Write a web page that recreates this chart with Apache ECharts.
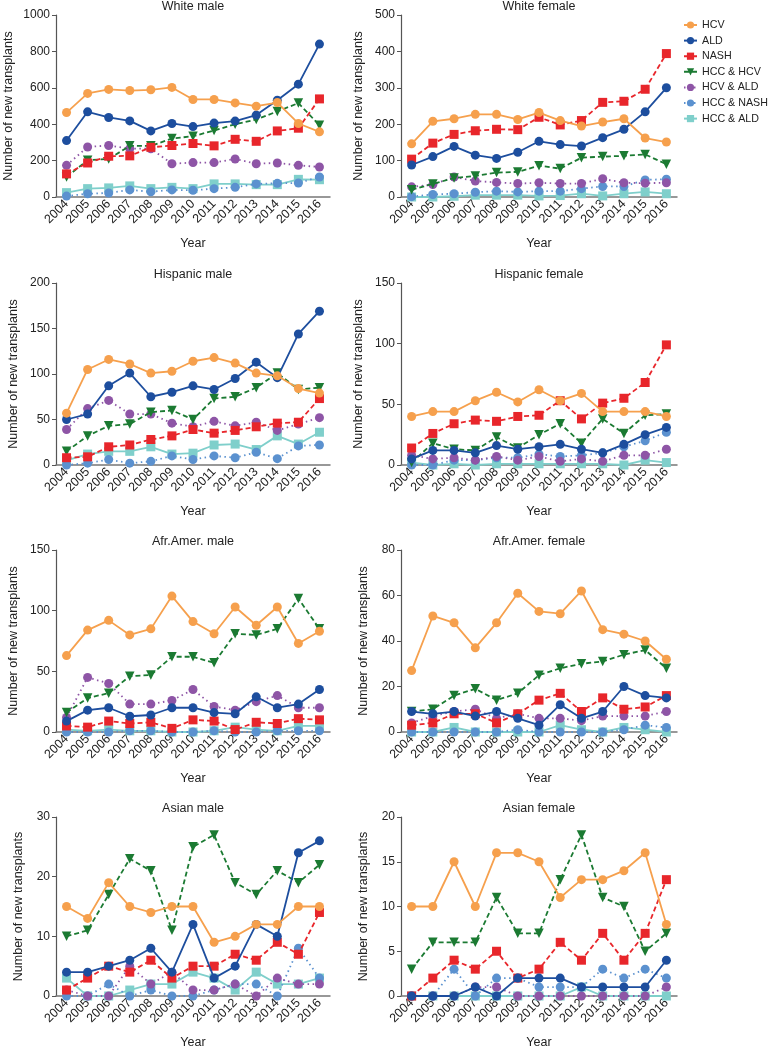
<!DOCTYPE html>
<html>
<head>
<meta charset="utf-8">
<script src="https://cdn.jsdelivr.net/npm/echarts@6/dist/echarts.min.js"></script>
<style>
html,body{margin:0;padding:0;background:#fff;}
#chart{width:768px;height:1050px;}
</style>
</head>
<body>
<div id="chart"></div>
<script>
const years = ['2004','2005','2006','2007','2008','2009','2010','2011','2012','2013','2014','2015','2016'];
const seriesNames = ['HCV','ALD','NASH','HCC & HCV','HCV & ALD','HCC & NASH','HCC & ALD'];
const panelTitles = ['White male','White female','Hispanic male','Hispanic female','Afr.Amer. male','Afr.Amer. female','Asian male','Asian female'];
const yMax = [1000,500,200,150,150,80,30,20];
const yStep = [200,100,50,50,50,20,10,5];

// White male
const wmHCV = [464,569,591,585,589,602,536,536,517,499,519,404,358];
const wmALD = [310,468,437,418,363,404,387,406,417,450,532,620,840];
const wmNASH = [127,187,224,226,273,283,294,281,317,306,363,378,539];
const wmHCCHCV = [110,202,209,281,281,321,334,365,400,426,470,516,394];
const wmHCVALD = [174,275,283,266,265,183,189,189,209,183,187,174,165];
const wmHCCNASH = [5,18,22,39,29,39,37,46,53,72,75,77,110];
const wmHCCALD = [24,46,50,61,46,53,46,72,72,68,68,97,95];
// White female
const wfHCV = [146,208,215,227,227,213,232,210,195,206,215,162,151];
const wfALD = [88,111,139,115,106,123,153,144,140,163,186,234,300];
const wfNASH = [104,148,172,182,186,185,219,198,210,260,263,296,394];
const wfHCCHCV = [20,36,52,58,67,69,86,78,108,111,113,117,90];
const wfHCVALD = [28,34,55,44,40,37,39,37,37,50,39,38,39];
const wfHCCNASH = [1,7,9,13,16,14,16,16,23,29,29,47,49];
const wfHCCALD = [0,0,2,5,5,5,3,4,9,3,9,14,9];
// Hispanic male
const hmHCV = [57,105,116,111,101,103,114,118,112,101,98,84,79];
const hmALD = [50,56,87,101,75,80,87,83,95,113,96,144,169];
const hmNASH = [8,9,20,22,28,32,39,35,38,42,46,47,73];
const hmHCCHCV = [15,32,43,45,58,60,50,73,75,85,101,83,85];
const hmHCVALD = [39,62,71,56,56,46,42,48,43,47,38,45,52];
const hmHCCNASH = [0,2,6,2,4,10,6,10,8,14,7,21,22];
const hmHCCALD = [5,12,15,15,20,12,13,22,23,17,32,23,36];
// Hispanic female
const hfHCV = [40,44,44,53,60,52,62,53,59,44,44,44,40];
const hfALD = [5,12,12,10,16,13,15,17,13,10,17,25,31];
const hfNASH = [14,26,34,37,36,40,41,53,38,51,55,68,99];
const hfHCCHCV = [2,18,13,12,23,14,25,34,18,38,26,41,42];
const hfHCVALD = [8,5,6,4,7,4,7,3,5,3,8,8,13];
const hfHCCNASH = [0,0,4,4,6,6,9,7,8,10,15,20,27];
const hfHCCALD = [2,0,1,0,1,1,1,1,1,1,0,4,2];
// Afr.Amer. male
const amHCV = [63,84,92,80,85,112,91,81,103,88,103,73,83];
const amALD = [9,18,20,13,14,20,20,16,15,29,20,23,35];
const amNASH = [5,4,9,7,8,3,10,9,2,8,7,11,10];
const amHCCHCV = [16,28,32,46,47,62,62,57,81,80,85,110,85];
const amHCVALD = [12,45,40,23,23,26,35,21,18,25,30,20,20];
const amHCCNASH = [0,0,0,1,1,0,0,1,0,0,1,1,1];
const amHCCALD = [2,1,2,1,1,0,0,1,4,2,1,5,5];
// Afr.Amer. female
const afHCV = [27,51,48,37,48,61,53,52,62,45,43,40,32];
const afALD = [9,8,9,7,9,6,3,12,6,9,20,16,15];
const afNASH = [3,4,8,8,4,8,14,17,9,15,10,11,16];
const afHCCHCV = [9,10,16,19,14,17,25,28,30,31,34,36,28];
const afHCVALD = [4,7,9,10,6,8,6,6,5,7,7,7,9];
const afHCCNASH = [0,0,0,0,0,1,0,0,0,0,1,3,2];
const afHCCALD = [0,0,2,0,0,0,0,3,1,0,2,1,0];
// Asian male
const asmHCV = [15,13,19,15,14,15,15,9,10,12,12,15,15];
const asmALD = [4,4,5,6,8,4,12,3,5,12,10,24,26];
const asmNASH = [1,3,5,4,6,3,5,5,7,6,9,7,14];
const asmHCCHCV = [10,11,17,23,21,11,25,27,19,17,21,19,22];
const asmHCVALD = [1,0,0,5,2,4,1,1,2,0,3,2,2];
const asmHCCNASH = [0,0,2,0,1,0,0,1,2,2,0,8,3];
const asmHCCALD = [3,0,0,1,2,2,4,3,1,4,2,2,3];
// Asian female
const asfHCV = [10,10,15,10,16,16,15,11,13,13,14,16,8];
const asfALD = [0,0,0,1,0,2,2,2,1,1,1,1,4];
const asfNASH = [0,2,4,3,5,2,3,6,4,7,4,7,13];
const asfHCCHCV = [3,6,6,6,11,7,7,13,18,11,10,5,7];
const asfHCVALD = [0,0,0,1,1,0,0,0,0,0,0,0,1];
const asfHCCNASH = [0,0,3,0,2,2,1,1,1,3,2,3,2];
const asfHCCALD = [0,0,0,0,0,0,0,0,1,0,0,0,0];

const panelData = [
  [wmHCV,wmALD,wmNASH,wmHCCHCV,wmHCVALD,wmHCCNASH,wmHCCALD],
  [wfHCV,wfALD,wfNASH,wfHCCHCV,wfHCVALD,wfHCCNASH,wfHCCALD],
  [hmHCV,hmALD,hmNASH,hmHCCHCV,hmHCVALD,hmHCCNASH,hmHCCALD],
  [hfHCV,hfALD,hfNASH,hfHCCHCV,hfHCVALD,hfHCCNASH,hfHCCALD],
  [amHCV,amALD,amNASH,amHCCHCV,amHCVALD,amHCCNASH,amHCCALD],
  [afHCV,afALD,afNASH,afHCCHCV,afHCVALD,afHCCNASH,afHCCALD],
  [asmHCV,asmALD,asmNASH,asmHCCHCV,asmHCVALD,asmHCCNASH,asmHCCALD],
  [asfHCV,asfALD,asfNASH,asfHCCHCV,asfHCVALD,asfHCCNASH,asfHCCALD]
];

// styles
const seriesColors = ['#F6A04D','#1D4E9E','#E8262B','#1B7A32','#8E55A6','#5B91CF','#7FCFCB'];
const seriesLine = ['solid','solid',[5,3],[5,3],[1.5,3.5],[1.5,3.5],'solid'];
const seriesSymbol = ['circle','circle','rect','triangle','circle','circle','rect'];
const seriesSymbolRotate = [0,0,0,180,0,0,0];
const seriesSymbolSize = [9,9,9,9.5,9,9,9];

const FONT = '"Liberation Sans", Arial, Helvetica, sans-serif';
const colLeft = [56, 401];
const colWidth = [274, 276];
const rowTop = [15, 283, 550, 817];
const gridH = 182;

const grids = [], xAxes = [], yAxes = [], titles = [], series = [];
panelData.forEach((arrs, p) => {
  const col = p % 2, row = Math.floor(p / 2);
  const left = colLeft[col], top = rowTop[row];
  grids.push({left: left, top: top, width: colWidth[col], height: gridH, containLabel: false});
  titles.push({
    text: panelTitles[p],
    left: left + colWidth[col] / 2,
    top: Math.max(0, top - 15),
    padding: 0,
    textAlign: 'center',
    textStyle: {fontFamily: FONT, fontSize: 12.5, fontWeight: 'normal', color: '#222'}
  });
  xAxes.push({
    type: 'category', gridIndex: p, data: years, boundaryGap: true,
    name: 'Year', nameLocation: 'middle', nameGap: 40,
    nameTextStyle: {fontFamily: FONT, fontSize: 12.5, color: '#222'},
    axisLine: {lineStyle: {color: '#777', width: 1.5}},
    axisTick: {show: false},
    axisLabel: {rotate: 45, fontFamily: FONT, fontSize: 12.5, color: '#222', margin: 5, interval: 0},
    splitLine: {show: false}
  });
  const digits = String(yMax[p]).length;
  const gap = digits >= 4 ? 41 : (digits === 3 ? 36 : 31);
  yAxes.push({
    type: 'value', gridIndex: p, min: 0, max: yMax[p], interval: yStep[p],
    name: 'Number of new transplants', nameLocation: 'middle', nameGap: gap,
    nameTextStyle: {fontFamily: FONT, fontSize: 12.5, color: '#222'},
    axisLine: {show: true, lineStyle: {color: '#555', width: 1.2}},
    axisTick: {show: true, length: 4, lineStyle: {color: '#555'}},
    axisLabel: {fontFamily: FONT, fontSize: 12, color: '#222', margin: 6, formatter: v => String(v)},
    splitLine: {show: false}
  });
  arrs.forEach((d, s) => {
    series.push({
      name: seriesNames[s], type: 'line', xAxisIndex: p, yAxisIndex: p, data: d,
      symbol: seriesSymbol[s], symbolSize: seriesSymbolSize[s], symbolRotate: seriesSymbolRotate[s],
      showAllSymbol: true,
      lineStyle: {color: seriesColors[s], width: 1.8, type: seriesLine[s]},
      itemStyle: {color: seriesColors[s], borderWidth: 0},
      emphasis: {disabled: true},
      animation: false,
      z: 2 + (6 - s) * 0.1
    });
  });
});

const chart = echarts.init(document.getElementById('chart'), null, {renderer: 'canvas'});
chart.setOption({
  backgroundColor: '#fff',
  animation: false,
  color: seriesColors,
  title: titles,
  legend: {
    data: seriesNames, orient: 'vertical', left: 683, top: 19.5, padding: 0,
    itemWidth: 13, itemHeight: 9, itemGap: 4.6,
    textStyle: {fontFamily: FONT, fontSize: 10.7, color: '#222'},
    selectedMode: false
  },
  grid: grids, xAxis: xAxes, yAxis: yAxes, series: series
});
</script>
</body>
</html>
